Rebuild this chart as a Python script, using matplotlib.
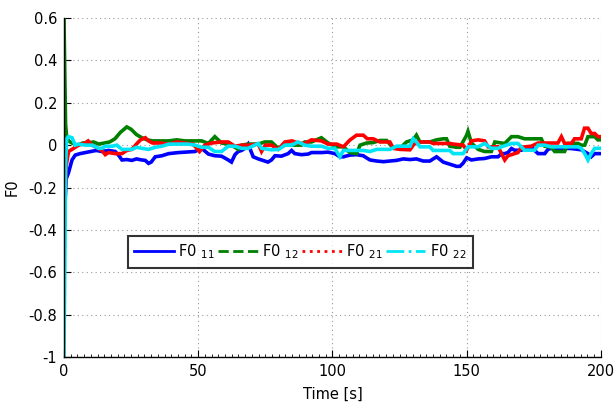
import matplotlib
matplotlib.use("Agg")
import matplotlib.pyplot as plt
from matplotlib.lines import Line2D
from matplotlib.ticker import MultipleLocator, FuncFormatter

plt.rcParams['font.family'] = ['DejaVu Sans']
plt.rcParams['axes.unicode_minus'] = False

# F0_11 (blue)
t11 = [0, 0.3, 0.8, 1.7, 3.0, 4.2, 6, 8, 10, 12, 14.1, 16.6, 19.1, 20.5, 21.6, 23.4, 25.3, 27, 29,
       30.3, 31.5, 32.5, 34, 36.5, 39, 42.7, 46.4, 48.8, 51.3, 53.8, 56.2, 58.7, 61.2, 62.4, 63.7,
       64.9, 66.2, 67.4, 68.6, 70.5, 72.4, 74.8, 76, 77.3, 78.6, 81, 83.5, 84.8, 86, 88.5, 91, 92.2,
       95.9, 98.4, 100.9, 102.8, 104.1, 106.5, 109, 111.5, 112.7, 114, 116.5, 119, 121.4, 123.9,
       126.4, 128.9, 131.3, 133.8, 136.3, 138.8, 141.3, 142.5, 145, 146.2, 147.5, 148.7, 150, 151.8,
       154.3, 156.7, 159.2, 161.7, 163, 164.2, 165.4, 166.7, 167.9, 170.4, 172.9, 174.1, 176.6,
       179.1, 180.3, 181.5, 184, 186.5, 189, 191.5, 192.7, 195.2, 196.4, 197.7, 200]
f11 = [-0.42, -0.3, -0.16, -0.13, -0.07, -0.047, -0.04, -0.035, -0.03, -0.025, -0.03, -0.025, -0.03,
       -0.05, -0.07, -0.068, -0.072, -0.065, -0.07, -0.072, -0.086, -0.08, -0.055, -0.05, -0.04,
       -0.035, -0.032, -0.03, -0.015, -0.042, -0.05, -0.052, -0.07, -0.08, -0.045, -0.03, -0.025,
       -0.015, 0.005, -0.055, -0.065, -0.075, -0.08, -0.07, -0.05, -0.052, -0.04, -0.025, -0.04,
       -0.045, -0.042, -0.035, -0.035, -0.033, -0.04, -0.055, -0.055, -0.047, -0.045, -0.05, -0.06,
       -0.07, -0.075, -0.078, -0.075, -0.072, -0.065, -0.068, -0.065, -0.075, -0.075, -0.055, -0.08,
       -0.085, -0.095, -0.1, -0.1, -0.085, -0.06, -0.07, -0.065, -0.063, -0.055, -0.055, -0.04,
       -0.04, -0.035, -0.016, -0.024, -0.024, -0.01, -0.01, -0.04, -0.04, -0.02, -0.015, -0.016,
       -0.015, -0.016, -0.02, -0.022, -0.04, -0.055, -0.04, -0.04]

# F0_12 (green)
t12 = [0, 0.3, 0.6, 1.0, 1.7, 3, 5, 7, 9, 11, 13, 15, 17, 19, 21, 23.4, 25, 27, 29, 31, 33, 36, 39,
       42, 45, 48, 51.3, 53.8, 56.2, 58.7, 61.2, 63.7, 64.9, 66.2, 68.6, 72.4, 74.8, 77.3, 79.8,
       82.3, 86, 88.5, 89.7, 92.2, 95.9, 98.4, 101.6, 104.1, 106.5, 109, 110.3, 112.7, 115.2, 117.7,
       120.2, 122.7, 125.1, 127.6, 130.1, 131.3, 132.6, 136.3, 138.8, 141.3, 142.5, 143.7, 146.2,
       147.5, 150, 150.5, 151.8, 154.3, 156.7, 159.2, 160.5, 163, 164.2, 166.7, 169.1, 171.6, 174.1,
       177.8, 179.1, 181.5, 182.8, 186.5, 187.7, 191.5, 192.7, 194, 195.2, 197.7, 198.9, 200]
f12 = [0.6, 0.35, 0.1, 0.04, 0.02, 0.01, 0.0, 0.01, 0.01, 0.015, 0.005, 0.01, 0.015, 0.03, 0.06, 0.086,
       0.075, 0.05, 0.035, 0.025, 0.02, 0.02, 0.02, 0.025, 0.02, 0.02, 0.02, 0.008, 0.04, 0.01, 0.005,
       -0.01, -0.02, 0.0, 0.005, 0.005, 0.015, 0.015, -0.015, 0.0, 0.0, 0.0, 0.015, 0.015, 0.035, 0.01,
       -0.008, -0.008, -0.035, -0.04, 0.0, 0.01, 0.012, 0.022, 0.022, -0.015, -0.015, 0.015, 0.025,
       0.047, 0.015, 0.015, 0.025, 0.03, 0.03, -0.005, -0.01, -0.01, 0.047, 0.065, 0.01, -0.02, -0.03,
       -0.03, 0.015, 0.01, 0.008, 0.04, 0.04, 0.03, 0.03, 0.03, -0.005, -0.01, -0.03, -0.03, 0.008,
       0.008, 0.0, 0.0, 0.04, 0.04, 0.025, 0.025]

# F0_21 (red)
t21 = [0, 0.3, 0.8, 1.7, 3, 4.2, 5.5, 7.9, 9, 10.5, 12, 14.1, 15.4, 16.6, 19.1, 21.6, 23.4, 25.3, 27,
       28.5, 30.3, 31.5, 33, 36, 39, 42, 45, 48, 49.5, 50.5, 52.5, 55, 58.7, 61.2, 63.7, 66.2, 69,
       72.4, 73.6, 75, 77.3, 79.8, 82.3, 85, 87.2, 89.7, 92.2, 95.9, 98.4, 101.6, 104.1, 106.5, 109,
       111.5, 113, 115.2, 117.7, 121.4, 122.7, 125.1, 128.9, 130.1, 131.3, 136.3, 137.5, 141.3,
       143.7, 145, 148.7, 150, 151.8, 154.3, 156.7, 158, 161.7, 163, 164.2, 165.4, 167.9, 169.1,
       170.4, 174.1, 176.6, 180.3, 184, 185.3, 186.5, 189, 190.2, 192.7, 193.9, 195.2, 196.4, 197.7,
       198.9, 200]
f21 = [-0.45, -0.3, -0.1, -0.03, -0.02, -0.01, 0.0, 0.01, 0.02, 0.0, -0.01, -0.025, -0.045, -0.035,
       -0.04, -0.04, -0.025, -0.02, 0.005, 0.025, 0.035, 0.02, 0.01, 0.01, 0.005, 0.015, 0.01, 0.005,
       -0.015, -0.03, 0.0, 0.01, 0.015, 0.015, -0.005, 0.0, 0.0, 0.005, -0.03, 0.0, 0.0, -0.02, 0.015,
       0.02, 0.01, 0.008, 0.025, 0.02, 0.005, 0.005, -0.008, 0.024, 0.047, 0.047, 0.03, 0.03, 0.015,
       0.015, -0.015, -0.02, -0.022, 0.0, 0.015, 0.015, 0.008, 0.008, 0.008, 0.005, 0.0, -0.024, 0.02,
       0.025, 0.02, -0.008, -0.008, -0.04, -0.07, -0.05, -0.04, -0.035, -0.01, -0.005, 0.01, 0.01, 0.01,
       0.04, 0.008, 0.008, 0.03, 0.03, 0.08, 0.08, 0.055, 0.055, 0.04, 0.04]

# F0_22 (cyan)
t22 = [0, 0.3, 0.6, 1.0, 1.7, 3, 4.2, 5.5, 7.9, 10.5, 12.9, 14.1, 15.4, 17.9, 19.7, 21.6, 23.4, 25.3,
       27, 29, 31.5, 34, 36.5, 39, 42.7, 46.4, 48.8, 51.3, 53.8, 56.2, 58.7, 61.2, 63.7, 66.2, 68.6,
       72.4, 73.6, 77.3, 80, 82.3, 84.8, 87.2, 89.7, 92.2, 95.9, 98.4, 100.9, 102.8, 104.1, 111.5,
       114, 116.5, 121.4, 123.9, 128.9, 130.1, 131.3, 132.6, 136.3, 137.5, 143.7, 145, 148.7, 150.5,
       154.3, 156.7, 159.2, 161.7, 163, 166.7, 169.1, 171.6, 175.3, 176.6, 179.1, 181.5, 191.5, 192.7,
       194, 195.2, 196.4, 197.7, 200]
f22 = [-1.0, -0.6, -0.1, 0.03, 0.04, 0.035, 0.0, 0.005, 0.0, 0.0, -0.015, -0.015, -0.005, -0.005, 0.0,
       -0.02, -0.02, -0.02, -0.01, -0.015, -0.02, -0.01, -0.005, 0.005, 0.005, 0.005, 0.0, -0.01, -0.01,
       -0.03, -0.03, -0.005, -0.005, -0.015, -0.015, 0.008, -0.015, -0.022, -0.02, 0.0, 0.0, 0.015, 0.0,
       -0.005, -0.005, -0.015, -0.015, -0.055, -0.025, -0.025, -0.03, -0.02, -0.02, -0.005, -0.005, 0.03,
       0.015, -0.008, -0.008, -0.025, -0.025, -0.04, -0.04, -0.008, -0.008, 0.008, -0.015, -0.015,
       -0.008, 0.008, 0.008, -0.024, -0.024, 0.0, 0.0, -0.008, -0.008, -0.015, -0.04, -0.07, -0.04,
       -0.015, -0.015]

labels = ['F0 $_{11}$', 'F0 $_{12}$', 'F0 $_{21}$', 'F0 $_{22}$']
colors = ['#0000ff', '#008000', '#ff0000', '#00e5f5']
styles = ['-', '--', ':', '-.']

fig = plt.figure(figsize=(6.15, 4.05), dpi=100)
ax = fig.add_axes([0.104, 0.1185, 0.873, 0.837])

series = [(t11, f11), (t12, f12), (t21, f21), (t22, f22)]
for (t, f), c in zip(series, colors):
    ax.plot(t, f, color=c, lw=2.6, solid_joinstyle='miter')

ax.set_xlim(0, 200)
ax.set_ylim(-1, 0.6)
ax.xaxis.set_major_locator(MultipleLocator(50))
ax.yaxis.set_major_locator(MultipleLocator(0.2))
ax.xaxis.set_minor_locator(MultipleLocator(2.5))
ax.yaxis.set_major_formatter(FuncFormatter(lambda v, p: '%g' % round(v, 2)))

ax.grid(True, which='major', color='#999999', linestyle=(0, (1, 3)), linewidth=0.8)
for s in ['top', 'right']:
    ax.spines[s].set_visible(False)
for s in ['left', 'bottom']:
    ax.spines[s].set_linewidth(1.0)
ax.tick_params(which='major', direction='in', length=5, labelsize=10.5, pad=5)
ax.tick_params(which='minor', direction='in', length=2.5)
ax.tick_params(axis='y', which='minor', left=False)

ax.set_xlabel('Time [s]', fontsize=10.5, labelpad=6)
ax.set_ylabel('F0', fontsize=10.5, labelpad=6)

handles = [Line2D([], [], color=c, ls=s, lw=2) for c, s in zip(colors, styles)]
leg = ax.legend(handles, labels, loc='upper left', bbox_to_anchor=(0.119, 0.357),
                ncol=4, fontsize=10.5, frameon=True, fancybox=False,
                handlelength=2.7, handletextpad=0.3, columnspacing=0.25, borderaxespad=0,
                borderpad=0.45)
leg.get_frame().set_edgecolor('black')
leg.get_frame().set_linewidth(1.5)

fig.savefig('out.png', dpi=100)
